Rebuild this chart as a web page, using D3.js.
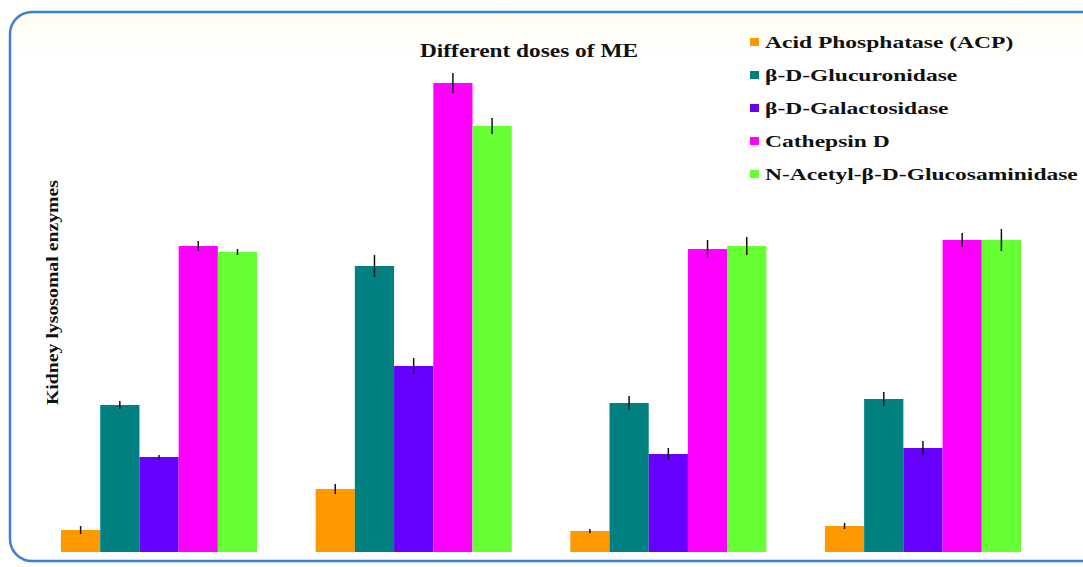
<!DOCTYPE html>
<html>
<head>
<meta charset="utf-8">
<script src="https://cdn.jsdelivr.net/npm/d3@7"></script>
<style>
  body { margin: 0; background: #ffffff; }
  svg { display: block; }
</style>
</head>
<body>
<svg id="chart" width="1083" height="567"></svg>
<script>
// groups (doses) and enzyme series
const groups = ['G1', 'G2', 'G3', 'G4'];
const enzymes = [
  'Acid Phosphatase (ACP)',
  'β-D-Glucuronidase',
  'β-D-Galactosidase',
  'Cathepsin D',
  'N-Acetyl-β-D-Glucosaminidase',
];
const colors = ['#ff9900', '#008080', '#6600ff', '#ff00ff', '#66ff33'];

// values per enzyme, one per group
const acp = [22, 63, 21, 26];
const glucuronidase = [147, 286, 149, 153];
const galactosidase = [95, 186, 98, 104];
const cathepsin = [306, 469, 303, 312];
const nag = [300, 426, 306, 312];
const values = [acp, glucuronidase, galactosidase, cathepsin, nag];

// error (± half-length)
const acpErr = [4, 5, 2, 3];
const glucErr = [4, 11, 7, 7];
const galErr = [2, 8, 6, 7];
const cathErr = [5, 10, 9, 7];
const nagErr = [3, 8, 9, 11];
const errors = [acpErr, glucErr, galErr, cathErr, nagErr];

const svg = d3.select('#chart');
const serif = '"Liberation Serif", "Times New Roman", serif';

// frame
const defs = svg.append('defs');
const grad = defs.append('linearGradient').attr('id', 'bg').attr('x1', 0).attr('y1', 0).attr('x2', 0).attr('y2', 1);
grad.append('stop').attr('offset', '0%').attr('stop-color', '#fffdf0');
grad.append('stop').attr('offset', '8%').attr('stop-color', '#ffffff');
grad.append('stop').attr('offset', '100%').attr('stop-color', '#ffffff');

svg.append('rect')
  .attr('x', 10).attr('y', 12)
  .attr('width', 1100).attr('height', 549)
  .attr('rx', 22).attr('ry', 22)
  .attr('fill', 'url(#bg)')
  .attr('stroke', '#3f7fcf')
  .attr('stroke-width', 2.5);

const baseline = 552;
const x0 = d3.scaleBand().domain(groups).range([61, 1021]).paddingInner(0.23).paddingOuter(0);
const x1 = d3.scaleBand().domain(d3.range(enzymes.length)).range([0, x0.bandwidth()]);
const y = d3.scaleLinear().domain([0, 500]).range([baseline, baseline - 500]);

const series = enzymes.map((name, i) => ({
  name, i,
  pts: groups.map((g, j) => ({ g, v: values[i][j], e: errors[i][j] })),
}));

const gSeries = svg.append('g').selectAll('g')
  .data(series)
  .join('g')
  .attr('fill', d => colors[d.i]);

gSeries.selectAll('rect')
  .data(d => d.pts.map(p => ({ ...p, i: d.i })))
  .join('rect')
  .attr('x', d => x0(d.g) + x1(d.i))
  .attr('y', d => y(d.v))
  .attr('width', x1.bandwidth())
  .attr('height', d => y(0) - y(d.v));

// error bars
gSeries.selectAll('line')
  .data(d => d.pts.map(p => ({ ...p, i: d.i })))
  .join('line')
  .attr('x1', d => x0(d.g) + x1(d.i) + x1.bandwidth() / 2)
  .attr('x2', d => x0(d.g) + x1(d.i) + x1.bandwidth() / 2)
  .attr('y1', d => y(d.v + d.e))
  .attr('y2', d => y(d.v - d.e))
  .attr('stroke', '#111')
  .attr('stroke-width', 1.5);

// title (stretched wide like the original)
svg.append('text')
  .attr('x', 420).attr('y', 57)
  .attr('textLength', 218)
  .attr('lengthAdjust', 'spacingAndGlyphs')
  .style('font-family', serif)
  .style('font-weight', 'bold')
  .style('font-size', '18px')
  .attr('fill', '#111')
  .text('Different doses of ME');

// y label
svg.append('text')
  .attr('transform', 'translate(58,405) rotate(-90)')
  .attr('textLength', 225)
  .attr('lengthAdjust', 'spacingAndGlyphs')
  .style('font-family', serif)
  .style('font-weight', 'bold')
  .style('font-size', '17px')
  .attr('fill', '#111')
  .text('Kidney lysosomal enzymes');

// legend
const legend = svg.append('g').selectAll('g')
  .data(enzymes)
  .join('g')
  .attr('transform', (d, i) => `translate(750,${42 + i * 33})`);

legend.append('rect')
  .attr('x', 0).attr('y', -4)
  .attr('width', 9).attr('height', 8)
  .attr('fill', (d, i) => colors[i]);

legend.append('text')
  .attr('transform', 'translate(15,0) scale(1.47,1)')
  .attr('dy', '0.35em')
  .style('font-family', serif)
  .style('font-weight', 'bold')
  .style('font-size', '16px')
  .attr('fill', '#111')
  .text(d => d);
</script>
</body>
</html>
